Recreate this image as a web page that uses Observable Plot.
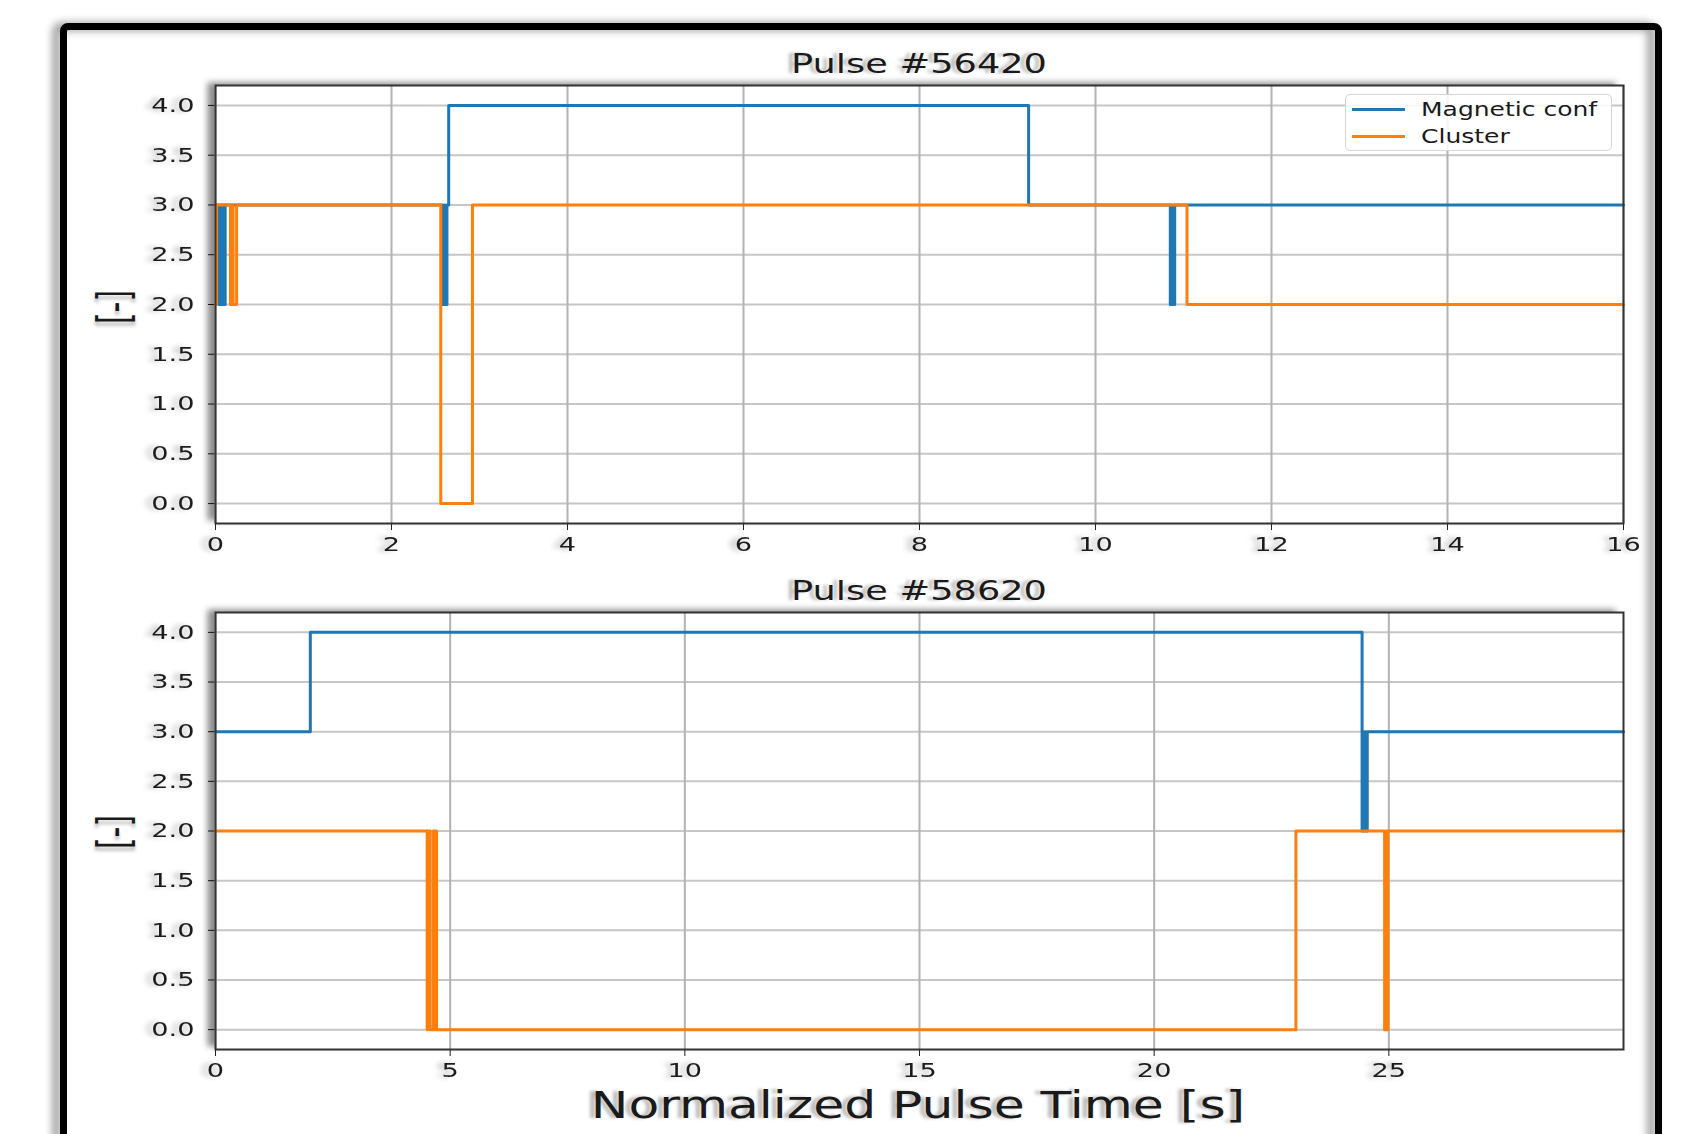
<!DOCTYPE html>
<html>
<head>
<meta charset="utf-8">
<script src="https://cdn.jsdelivr.net/npm/d3@7"></script>
<script src="https://cdn.jsdelivr.net/npm/@observablehq/plot@0.6"></script>
<style>
  html, body { margin: 0; padding: 0; background: #fff; }
  #page { position: relative; width: 1690px; height: 1134px; overflow: hidden; background: #fff; font-family: "DejaVu Sans", sans-serif; color: #1a1a1a; }
  .plot { position: absolute; left: 0; z-index: 1; }
  .ttl { position: absolute; white-space: nowrap; line-height: 1; transform-origin: center center; text-shadow: -4px 0 3px rgba(0,0,0,0.28); z-index: 3; }
  #frame { position: absolute; left: 60px; top: 23px; width: 1602px; height: 1200px; box-sizing: border-box; border: 7px solid #000; border-radius: 8px 8px 0 0; filter: drop-shadow(-7px 0 4px rgba(0,0,0,0.45)); z-index: 2; }
  .legend { position: absolute; left: 1345px; top: 94px; width: 267px; height: 57px; box-sizing: border-box; border: 1.5px solid #d4d4d4; border-radius: 5px; background: rgba(255,255,255,0.85); z-index: 3; }
  .legend .sw { position: absolute; left: 6px; width: 53px; height: 3px; }
  .legend .lt { position: absolute; left: 75px; font-size: 20px; line-height: 1; white-space: nowrap; transform-origin: left center; transform: translateY(-50%) scaleX(1.25); color: #1a1a1a; }
</style>
</head>
<body>
<div id="page">
  <div id="frame"></div>
</div>
<script>
// ---------------- data ----------------
const seriesNames = ["Magnetic conf", "Cluster"];
const seriesColors = ["#1f77b4", "#ff7f0e"];
const titles = ["Pulse #56420", "Pulse #58620"];
const xLabel = "Normalized Pulse Time [s]";
const yLabel = "[-]";

const yTicks = [0, 0.5, 1.0, 1.5, 2.0, 2.5, 3.0, 3.5, 4.0];
const xTicksTop = [0, 2, 4, 6, 8, 10, 12, 14, 16];
const xTicksBottom = [0, 5, 10, 15, 20, 25];

// Pulse #56420 (step-after change points)
const t56420Mag = [0, 0.04, 0.05, 0.07, 0.08, 0.10, 0.11, 2.58, 2.60, 2.61, 2.63, 2.65, 9.24, 10.85, 10.87, 10.88, 10.90, 16];
const v56420Mag = [3, 2, 3, 2, 3, 2, 3, 2, 3, 2, 3, 4, 3, 2, 3, 2, 3, 3];
const t56420Cl  = [0, 0.01, 0.17, 0.19, 0.20, 0.24, 2.56, 2.92, 11.04, 16];
const v56420Cl  = [2, 3, 2, 3, 2, 3, 0, 3, 2, 2];

// Pulse #58620
const t58620Mag = [0, 2.02, 24.43, 24.46, 24.48, 24.51, 24.52, 24.54, 30];
const v58620Mag = [3, 4, 2, 3, 2, 3, 2, 3, 3];
const t58620Cl  = [0, 4.51, 4.52, 4.57, 4.64, 4.66, 4.68, 4.71, 23.02, 24.91, 24.94, 24.96, 24.98, 30];
const v58620Cl  = [2, 0, 2, 0, 2, 0, 2, 0, 2, 0, 2, 0, 2, 2];

// ---------------- drawing ----------------
const SX = 1.36; // horizontal text stretch of the reference

function rows(ts, vs) { return ts.map((t, i) => ({t, v: vs[i]})); }

function addShadowFilter(svg, id, dx, dy, sd, op) {
  const ns = "http://www.w3.org/2000/svg";
  const defs = document.createElementNS(ns, "defs");
  const f = document.createElementNS(ns, "filter");
  f.setAttribute("id", id);
  f.setAttribute("x", "-50%"); f.setAttribute("y", "-50%");
  f.setAttribute("width", "200%"); f.setAttribute("height", "200%");
  const ds = document.createElementNS(ns, "feDropShadow");
  ds.setAttribute("dx", dx); ds.setAttribute("dy", dy);
  ds.setAttribute("stdDeviation", sd);
  ds.setAttribute("flood-color", "#000"); ds.setAttribute("flood-opacity", op);
  f.appendChild(ds); defs.appendChild(f);
  svg.insertBefore(defs, svg.firstChild);
}

function num(a) { const v = parseFloat(a); return isFinite(v) && !/em|%/.test(String(a)) ? v : 0; }

function stretchTexts(svg, s, tid) {
  svg.querySelectorAll("text").forEach(t => {
    const x = num(t.getAttribute("x")), y = num(t.getAttribute("y"));
    const tr = t.getAttribute("transform") || "";
    t.setAttribute("transform", `${tr} translate(${x} ${y}) scale(${s} 1) translate(${-x} ${-y})`.trim());
    t.setAttribute("filter", `url(#${tid})`);
  });
}

function panel({mag, cl, xDomain, xTicks, height, marginTop, marginBottom, top, idx}) {
  const svg = Plot.plot({
    width: 1690, height, marginLeft: 215, marginRight: 67, marginTop, marginBottom,
    style: {fontFamily: "DejaVu Sans", fontSize: "20px", color: "#1e1e1e", background: "transparent", overflow: "visible"},
    x: {domain: xDomain, ticks: xTicks, tickSize: 7, tickPadding: 6, tickFormat: d => String(d), label: null},
    y: {domain: [-0.2, 4.2], ticks: yTicks, tickSize: 7, tickPadding: 14, tickFormat: d3.format(".1f"), label: null},
    marks: [
      Plot.frame({fill: "white", stroke: null}),
      Plot.ruleY(yTicks, {stroke: "#c6c6c6", strokeWidth: 2}),
      Plot.ruleX(xTicks, {stroke: "#b2b2b2", strokeWidth: 2}),
      Plot.line(mag, {x: "t", y: "v", curve: "step-after", stroke: seriesColors[0], strokeWidth: 3}),
      Plot.line(cl, {x: "t", y: "v", curve: "step-after", stroke: seriesColors[1], strokeWidth: 3}),
      Plot.frame({stroke: "#333", strokeWidth: 2})
    ]
  });
  svg.classList.add("plot");
  svg.style.top = top + "px";
  const fid = "fs" + idx, tid = "ts" + idx;
  addShadowFilter(svg, fid, -8, -3, 3, 0.45);
  addShadowFilter(svg, tid, -4, 0, 2.5, 0.3);
  const frames = svg.querySelectorAll('[aria-label="frame"]');
  if (frames.length) frames[0].setAttribute("filter", `url(#${fid})`);
  stretchTexts(svg, SX, tid);
  return svg;
}

const page = document.getElementById("page");

page.appendChild(panel({
  mag: rows(t56420Mag, v56420Mag), cl: rows(t56420Cl, v56420Cl),
  xDomain: [0, 16], xTicks: xTicksTop, height: 570, marginTop: 85, marginBottom: 47, top: 0, idx: 1
}));
page.appendChild(panel({
  mag: rows(t58620Mag, v58620Mag), cl: rows(t58620Cl, v58620Cl),
  xDomain: [0, 30], xTicks: xTicksBottom, height: 564, marginTop: 42, marginBottom: 85, top: 570, idx: 2
}));

function addText(txt, cx, cy, size, transform) {
  const d = document.createElement("div");
  d.className = "ttl";
  d.textContent = txt;
  d.style.left = cx + "px";
  d.style.top = cy + "px";
  d.style.fontSize = size + "px";
  d.style.transform = transform;
  page.appendChild(d);
  return d;
}

addText(titles[0], 919, 63, 27, `translate(-50%,-50%) scaleX(${SX})`);
addText(titles[1], 919, 590, 27, `translate(-50%,-50%) scaleX(${SX})`);
addText(xLabel, 918, 1105, 37, `translate(-50%,-50%) scaleX(${SX})`);
addText(yLabel, 114, 307, 30, `translate(-50%,-50%) rotate(-90deg) scaleY(1.5)`);
addText(yLabel, 114, 832, 30, `translate(-50%,-50%) rotate(-90deg) scaleY(1.5)`);

// legend
const lg = document.createElement("div");
lg.className = "legend";
const lineYs = [14, 41];
seriesNames.forEach((name, i) => {
  const sw = document.createElement("div");
  sw.className = "sw";
  sw.style.top = (lineYs[i] - 1.5) + "px";
  sw.style.background = seriesColors[i];
  lg.appendChild(sw);
  const lt = document.createElement("div");
  lt.className = "lt";
  lt.style.top = lineYs[i] + "px";
  lt.textContent = name;
  lg.appendChild(lt);
});
page.appendChild(lg);
</script>
</body>
</html>
